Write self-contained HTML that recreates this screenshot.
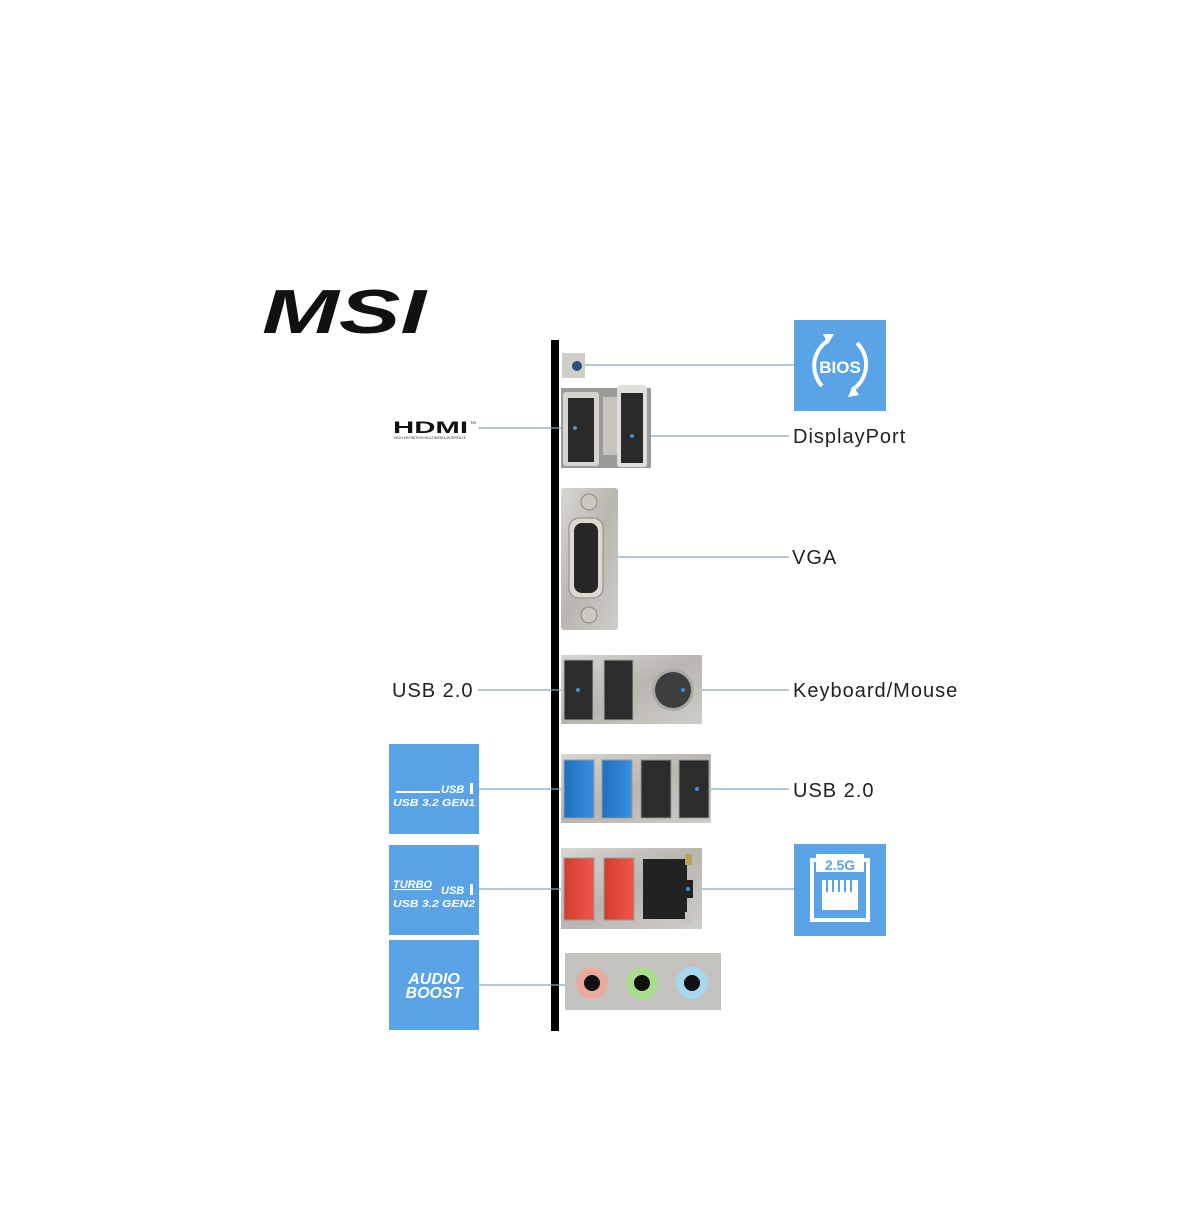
<!DOCTYPE html>
<html><head><meta charset="utf-8"><style>
html,body{margin:0;padding:0;background:#fff;}
svg{display:block;}
text{font-family:"Liberation Sans",sans-serif;}
</style></head><body>
<svg width="1200" height="1212" viewBox="0 0 1200 1212" xmlns="http://www.w3.org/2000/svg">
<defs>
<linearGradient id="metal" x1="0" y1="0" x2="1" y2="1"><stop offset="0" stop-color="#d8d6d2"/><stop offset="0.5" stop-color="#b9b6b0"/><stop offset="1" stop-color="#cfcdc9"/></linearGradient>
<linearGradient id="blue" x1="0" x2="1"><stop offset="0" stop-color="#1f6fc0"/><stop offset="1" stop-color="#3a90e0"/></linearGradient>
<linearGradient id="red" x1="0" x2="1"><stop offset="0" stop-color="#d43b2f"/><stop offset="1" stop-color="#f0564a"/></linearGradient>
</defs>

<!-- MSI logo -->
<text x="262" y="333" font-size="62" font-weight="bold" font-style="italic" textLength="164" lengthAdjust="spacingAndGlyphs" fill="#111">MSI</text>

<!-- black bar -->
<rect x="551" y="340" width="8" height="691" fill="#000"/>

<!-- connector lines -->
<g stroke="#7fa6c4" stroke-width="1.3">
<line x1="575" y1="365" x2="794" y2="365"/>
<line x1="478" y1="428" x2="575" y2="428"/>
<line x1="632" y1="436" x2="789" y2="436"/>
<line x1="600" y1="557" x2="789" y2="557"/>
<line x1="478" y1="690" x2="578" y2="690"/>
<line x1="683" y1="690" x2="789" y2="690"/>
<line x1="478" y1="789" x2="578" y2="789"/>
<line x1="697" y1="789" x2="789" y2="789"/>
<line x1="478" y1="889" x2="575" y2="889"/>
<line x1="688" y1="889" x2="794" y2="889"/>
<line x1="478" y1="985" x2="575" y2="985"/>
</g>

<!-- BIOS button -->
<rect x="562" y="353" width="23" height="25" fill="#cfcdc8"/>
<circle cx="577" cy="366" r="5" fill="#2a4f7a"/>

<!-- HDMI / DP -->
<rect x="561" y="388" width="90" height="80" fill="#9c9a96"/>
<rect x="563" y="392" width="36" height="74" rx="3" fill="#d5d3cf"/>
<rect x="568" y="398" width="26" height="64" fill="#2a2a2a"/>
<rect x="603" y="397" width="14" height="58" fill="#c7c4be"/>
<rect x="617" y="385" width="30" height="82" rx="3" fill="#e0deda"/>
<rect x="621" y="393" width="22" height="70" fill="#2a2a2a"/>
<circle cx="575" cy="428" r="2" fill="#3d8fd8"/>
<circle cx="632" cy="436" r="2" fill="#3d8fd8"/>

<!-- VGA -->
<rect x="561" y="488" width="57" height="142" rx="3" fill="url(#metal)"/>
<circle cx="589" cy="502" r="8" fill="#ccc8c0" stroke="#8a877f"/>
<circle cx="589" cy="615" r="8" fill="#ccc8c0" stroke="#8a877f"/>
<rect x="569" y="518" width="34" height="80" rx="10" fill="#ddd9d0" stroke="#8a877f"/>
<rect x="574" y="523" width="24" height="70" rx="8" fill="#262626"/>

<!-- USB 2.0 + PS2 -->
<rect x="561" y="655" width="141" height="69" fill="url(#metal)"/>
<rect x="564" y="660" width="29" height="60" fill="#2c2c2c" stroke="#aaa"/>
<rect x="604" y="660" width="29" height="60" fill="#2c2c2c" stroke="#aaa"/>
<circle cx="673" cy="690" r="21" fill="#aaa8a3"/>
<circle cx="673" cy="690" r="18" fill="#3e3e40"/>
<circle cx="578" cy="690" r="2" fill="#3d8fd8"/>
<circle cx="683" cy="690" r="2" fill="#3d8fd8"/>

<!-- USB row -->
<rect x="561" y="754" width="150" height="69" fill="url(#metal)"/>
<rect x="564" y="760" width="30" height="58" fill="url(#blue)" stroke="#999"/>
<rect x="602" y="760" width="30" height="58" fill="url(#blue)" stroke="#999"/>
<rect x="641" y="760" width="30" height="58" fill="#2c2c2c" stroke="#999"/>
<rect x="679" y="760" width="30" height="58" fill="#2c2c2c" stroke="#999"/>
<circle cx="697" cy="789" r="2" fill="#3d8fd8"/>

<!-- red USB + LAN -->
<rect x="561" y="848" width="141" height="81" fill="url(#metal)"/>
<rect x="564" y="858" width="30" height="62" fill="url(#red)" stroke="#999"/>
<rect x="604" y="858" width="30" height="62" fill="url(#red)" stroke="#999"/>
<rect x="643" y="859" width="44" height="60" fill="#222"/>
<rect x="685" y="880" width="8" height="18" fill="#222"/>
<rect x="685" y="854" width="7" height="11" fill="#b8a25a"/>
<rect x="685" y="912" width="7" height="11" fill="#c8c4bc"/>
<circle cx="688" cy="889" r="2" fill="#3d8fd8"/>

<!-- audio -->
<rect x="565" y="953" width="156" height="57" fill="#c4c2bf"/>
<circle cx="592" cy="983" r="16" fill="#eca9a0"/><circle cx="592" cy="983" r="8" fill="#111"/>
<circle cx="642" cy="983" r="16" fill="#a9dd8e"/><circle cx="642" cy="983" r="8" fill="#111"/>
<circle cx="692" cy="983" r="16" fill="#a6d7ee"/><circle cx="692" cy="983" r="8" fill="#111"/>

<!-- HDMI logo -->
<text x="393" y="433" font-size="17" font-weight="bold" textLength="75" lengthAdjust="spacingAndGlyphs" fill="#111">HDMI</text>
<text x="470" y="424" font-size="4" fill="#111">TM</text>
<text x="394" y="439" font-size="3.5" textLength="72" lengthAdjust="spacingAndGlyphs" fill="#333">HIGH-DEFINITION MULTIMEDIA INTERFACE</text>

<!-- labels -->
<g font-size="20" fill="#222" letter-spacing="1">
<text x="793" y="443">DisplayPort</text>
<text x="792" y="564">VGA</text>
<text x="392" y="697">USB 2.0</text>
<text x="793" y="697">Keyboard/Mouse</text>
<text x="793" y="797">USB 2.0</text>
</g>

<!-- BIOS box -->
<rect x="794" y="320" width="92" height="91" fill="#5aa3e6"/>
<g fill="none" stroke="#fff" stroke-width="4">
<path d="M 822 386 A 30 30 0 0 1 829 340"/>
<path d="M 857 343 A 30 30 0 0 1 852 390"/>
</g>
<polygon points="834,334 823,334 828,344" fill="#fff"/>
<polygon points="848,397 859,395 853,386" fill="#fff"/>
<text x="840" y="373" font-size="17" font-weight="bold" fill="#fff" text-anchor="middle">BIOS</text>

<!-- 2.5G box -->
<rect x="794" y="844" width="92" height="92" fill="#5aa3e6"/>
<path d="M 812 860 H 818 V 856 H 862 V 860 H 868 V 920 H 812 Z" fill="none" stroke="#fff" stroke-width="4"/>
<rect x="816" y="856" width="48" height="16" fill="#fff"/>
<text x="840" y="870" font-size="14" font-weight="bold" fill="#5aa3e6" text-anchor="middle">2.5G</text>
<rect x="822" y="880" width="36" height="30" fill="#fff"/>
<g stroke="#5aa3e6" stroke-width="2"><line x1="827" y1="880" x2="827" y2="892"/><line x1="833" y1="880" x2="833" y2="892"/><line x1="839" y1="880" x2="839" y2="892"/><line x1="845" y1="880" x2="845" y2="892"/><line x1="851" y1="880" x2="851" y2="892"/></g>

<!-- left blue boxes -->
<rect x="389" y="744" width="90" height="90" fill="#5aa3e6"/>
<line x1="396" y1="792" x2="440" y2="792" stroke="#fff" stroke-width="2"/>
<text x="441" y="793" font-size="11" font-weight="bold" font-style="italic" fill="#fff">USB</text>
<rect x="470" y="783" width="3" height="11" fill="#fff"/>
<text x="393" y="806" font-size="10.5" font-weight="bold" font-style="italic" fill="#fff" textLength="82" lengthAdjust="spacingAndGlyphs">USB 3.2 GEN1</text>

<rect x="389" y="845" width="90" height="90" fill="#5aa3e6"/>
<text x="393" y="888" font-size="11" font-weight="bold" font-style="italic" fill="#fff" text-decoration="underline">TURBO</text>
<text x="441" y="894" font-size="11" font-weight="bold" font-style="italic" fill="#fff">USB</text>
<rect x="470" y="884" width="3" height="11" fill="#fff"/>
<text x="393" y="907" font-size="10.5" font-weight="bold" font-style="italic" fill="#fff" textLength="82" lengthAdjust="spacingAndGlyphs">USB 3.2 GEN2</text>

<rect x="389" y="940" width="90" height="90" fill="#5aa3e6"/>
<text x="434" y="984" font-size="16" font-weight="bold" font-style="italic" fill="#fff" text-anchor="middle">AUDIO</text>
<text x="434" y="998" font-size="16" font-weight="bold" font-style="italic" fill="#fff" text-anchor="middle">BOOST</text>
</svg>
</body></html>
